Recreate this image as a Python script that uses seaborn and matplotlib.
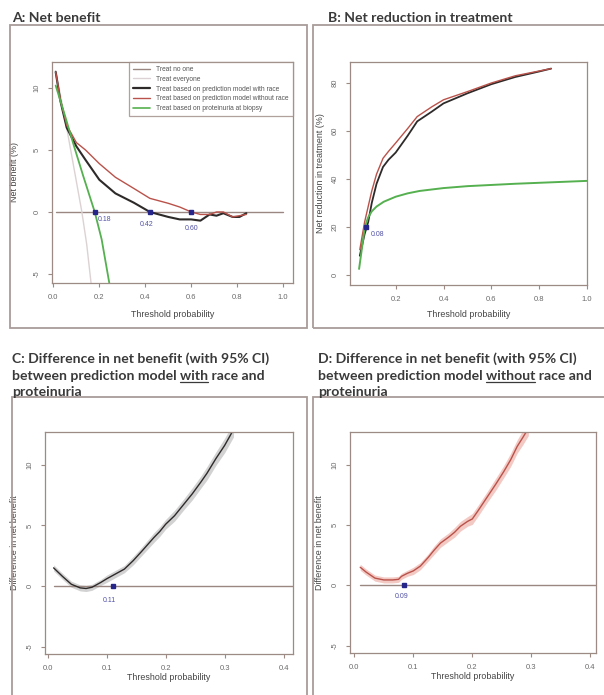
import numpy as np
import pandas as pd
import matplotlib
matplotlib.use("Agg")
import matplotlib.pyplot as plt
import seaborn as sns
from matplotlib.patches import Rectangle
from matplotlib.lines import Line2D

# ---------------- data ----------------
# Panel A: net benefit (%)
a_none_x = [0.01, 1.0]
a_none_y = [0.0, 0.0]
a_all_x = [0.01, 0.05, 0.09, 0.124, 0.145, 0.165]
a_all_y = [11.4, 7.6, 3.5, 0.0, -2.6, -5.9]
a_model_x = [0.01, 0.03, 0.058, 0.10, 0.14, 0.20, 0.27, 0.35, 0.42, 0.50, 0.55, 0.60, 0.64, 0.68, 0.71, 0.74, 0.78, 0.81, 0.84]
a_race_y = [11.3, 9.0, 6.8, 5.3, 4.2, 2.6, 1.5, 0.75, 0.0, -0.4, -0.6, -0.6, -0.7, -0.2, -0.3, -0.1, -0.4, -0.4, -0.1]
a_norace_y = [11.3, 9.1, 7.0, 5.6, 5.0, 3.9, 2.8, 1.9, 1.1, 0.7, 0.4, 0.0, -0.2, -0.2, 0.0, 0.0, -0.4, -0.3, -0.2]
a_prot_x = [0.01, 0.05, 0.09, 0.13, 0.18, 0.21, 0.245]
a_prot_y = [10.2, 7.8, 5.3, 2.9, 0.0, -2.2, -5.9]
a_cross = [0.18, 0.42, 0.60]
a_cross_lbl = ["0.18", "0.42", "0.60"]

# Panel B: net reduction in treatment (%)
b_model_x = [0.05, 0.07, 0.085, 0.10, 0.12, 0.147, 0.17, 0.20, 0.25, 0.29, 0.35, 0.40, 0.50, 0.60, 0.70, 0.80, 0.85]
b_race_y = [8.0, 17.0, 22.0, 30.0, 38.0, 45.0, 48.0, 51.0, 58.0, 64.0, 68.0, 71.5, 75.7, 79.5, 82.5, 84.8, 86.0]
b_norace_y = [10.5, 22.0, 28.5, 35.0, 42.0, 48.6, 51.5, 55.0, 61.0, 66.0, 70.0, 73.0, 76.4, 80.0, 83.0, 85.0, 86.0]
b_prot_x = [0.047, 0.06, 0.071, 0.085, 0.10, 0.12, 0.15, 0.20, 0.25, 0.30, 0.40, 0.50, 0.60, 0.70, 0.80, 0.90, 1.0]
b_prot_y = [2.5, 12.0, 20.0, 24.0, 26.5, 28.5, 30.5, 32.6, 34.0, 35.0, 36.2, 37.0, 37.5, 38.0, 38.4, 38.8, 39.2]
b_cross = [(0.075, 20.1)]
b_cross_lbl = ["0.08"]

# Panel C: difference in net benefit, model with race vs proteinuria
c_x = [0.01, 0.025, 0.04, 0.055, 0.065, 0.075, 0.09, 0.10, 0.115, 0.13, 0.145, 0.16, 0.18, 0.19, 0.20, 0.215, 0.23, 0.245, 0.26, 0.27, 0.285, 0.30, 0.315]
c_y = [1.5, 0.8, 0.15, -0.15, -0.2, -0.1, 0.3, 0.6, 1.0, 1.4, 2.1, 2.9, 4.0, 4.5, 5.1, 5.8, 6.7, 7.6, 8.6, 9.3, 10.5, 11.6, 12.9]
c_ci = [0.25, 0.25, 0.25, 0.25, 0.25, 0.25, 0.25, 0.3, 0.3, 0.3, 0.35, 0.35, 0.4, 0.4, 0.4, 0.45, 0.45, 0.5, 0.5, 0.55, 0.55, 0.6, 0.6]
c_cross = [0.11]
c_cross_lbl = ["0.11"]

# Panel D: difference in net benefit, model without race vs proteinuria
d_x = [0.01, 0.02, 0.035, 0.05, 0.065, 0.075, 0.08, 0.09, 0.10, 0.112, 0.125, 0.135, 0.146, 0.16, 0.17, 0.18, 0.192, 0.20, 0.21, 0.225, 0.24, 0.253, 0.265, 0.276, 0.285, 0.295]
d_y = [1.5, 1.1, 0.6, 0.45, 0.45, 0.5, 0.75, 1.0, 1.2, 1.6, 2.3, 2.9, 3.5, 4.0, 4.4, 4.9, 5.3, 5.5, 6.2, 7.3, 8.4, 9.4, 10.4, 11.5, 12.2, 13.0]
d_ci = [0.25, 0.25, 0.25, 0.25, 0.25, 0.25, 0.25, 0.25, 0.3, 0.3, 0.3, 0.35, 0.35, 0.35, 0.4, 0.4, 0.4, 0.45, 0.45, 0.45, 0.5, 0.5, 0.55, 0.55, 0.6, 0.6]
d_cross = [0.085]
d_cross_lbl = ["0.09"]

legend_labels = ["Treat no one", "Treat everyone",
                 "Treat based on prediction model with race",
                 "Treat based on prediction model without race",
                 "Treat based on proteinuria at biopsy"]

# ---------------- style ----------------
sns.set_theme(style="white")
plt.rcParams['font.family'] = ['Liberation Sans', 'DejaVu Sans']

C_NONE = '#9a8782'
C_ALL = '#dcd2d3'
C_RACE = '#2e2a2a'
C_NORACE = '#b9524a'
C_PROT = '#55b04f'
C_MARK = '#26268a'
C_LBL = '#5252a8'
FRAME = '#9c8a84'
PANEL = '#a89c98'
TITLE = '#3a3a3a'

W, H = 604, 695
fig = plt.figure(figsize=(W / 100, H / 100), dpi=100)
fig.patch.set_facecolor('white')


def axes_px(x0, y0, x1, y1):
    return fig.add_axes([x0 / W, 1 - y1 / H, (x1 - x0) / W, (y1 - y0) / H])


def style(ax, xlim, ylim, xticks, xlabels, yticks, ylabels, ylab, xlab_y, ylab_x):
    ax.set_facecolor('white')
    ax.set_xlim(xlim)
    ax.set_ylim(ylim)
    ax.set_xticks(xticks)
    ax.set_xticklabels(xlabels)
    ax.set_yticks(yticks)
    ax.set_yticklabels(ylabels, rotation=90, va='center')
    for s in ax.spines.values():
        s.set_visible(True)
        s.set_color(FRAME)
        s.set_linewidth(0.9)
    ax.tick_params(direction='out', length=3, width=0.8, color=FRAME,
                   labelsize=5.5, labelcolor='#6a6a6a', pad=5,
                   left=True, bottom=True)
    ax.set_xlabel('Threshold probability', fontsize=6.4, color='#444444')
    ax.set_ylabel(ylab, fontsize=6.4, color='#444444')
    ax.xaxis.set_label_coords(0.5, xlab_y)
    ax.yaxis.set_label_coords(ylab_x, 0.5)
    ax.grid(False)


def line(ax, x, y, color, lw):
    df = pd.DataFrame({'x': x, 'y': y})
    sns.lineplot(data=df, x='x', y='y', ax=ax, color=color, linewidth=lw,
                 estimator=None, sort=False, legend=False)


def mark(ax, x, y, lbl, dx, dy):
    ax.plot([x], [y], marker='s', ms=2.6, color=C_MARK, linestyle='none', zorder=6)
    ax.annotate(lbl, (x, y), xytext=(dx / 1.389, -dy / 1.389), textcoords='offset points',
                fontsize=5, color=C_LBL, ha='center', va='center')


# ---------------- panel frames ----------------
def frame_px(x0, y0, x1, y1):
    r = Rectangle((x0 / W, 1 - y1 / H), (x1 - x0) / W, (y1 - y0) / H,
                  transform=fig.transFigure, fill=False, edgecolor=PANEL, linewidth=1.3)
    fig.add_artist(r)

frame_px(10, 25, 307, 328)
frame_px(313, 25, 612, 328)
frame_px(12, 397, 307, 705)
frame_px(313, 397, 612, 705)

# ---------------- Panel A ----------------
axA = axes_px(52, 62, 293, 283)
line(axA, a_none_x, a_none_y, C_NONE, 1.0)
line(axA, a_all_x, a_all_y, C_ALL, 1.0)
line(axA, a_model_x, a_race_y, C_RACE, 1.5)
line(axA, a_model_x, a_norace_y, C_NORACE, 1.0)
line(axA, a_prot_x, a_prot_y, C_PROT, 1.3)
style(axA, (-0.006, 1.043), (-5.73, 12.1), [0, 0.2, 0.4, 0.6, 0.8, 1.0],
      ["0.0", "0.2", "0.4", "0.6", "0.8", "1.0"], [-5, 0, 5, 10], ["-5", "0", "5", "10"],
      "Net benefit (%)", -0.12, -0.137)
for xc, lbl, (dx, dy) in zip(a_cross, a_cross_lbl, [(10, 8), (-3, 13), (0, 17)]):
    mark(axA, xc, 0.0, lbl, dx, dy)
handles = [Line2D([], [], color=C_NONE, lw=1.0), Line2D([], [], color=C_ALL, lw=1.0),
           Line2D([], [], color=C_RACE, lw=1.6), Line2D([], [], color=C_NORACE, lw=1.0),
           Line2D([], [], color=C_PROT, lw=1.2)]
leg = axA.legend(handles, legend_labels, loc='upper right', borderaxespad=0,
                 fontsize=4.8, frameon=True, fancybox=False, handlelength=2.6,
                 handletextpad=1.0, labelspacing=0.42, borderpad=0.6)
leg.get_frame().set_edgecolor(FRAME)
leg.get_frame().set_linewidth(0.9)
for t in leg.get_texts():
    t.set_color('#555555')

# ---------------- Panel B ----------------
axB = axes_px(350, 62, 587, 285)
line(axB, b_model_x, b_race_y, C_RACE, 1.3)
line(axB, b_model_x, b_norace_y, C_NORACE, 1.0)
line(axB, b_prot_x, b_prot_y, C_PROT, 1.4)
style(axB, (0.009, 1.0), (-4.2, 88.75), [0.2, 0.4, 0.6, 0.8, 1.0],
      ["0.2", "0.4", "0.6", "0.8", "1.0"], [0, 20, 40, 60, 80], ["0", "20", "40", "60", "80"],
      "Net reduction in treatment (%)", -0.11, -0.107)
mark(axB, b_cross[0][0], b_cross[0][1], b_cross_lbl[0], 12, 8)

# ---------------- Panel C ----------------
axC = axes_px(45, 432, 293, 654)
lo = [y - c for y, c in zip(c_y, c_ci)]
hi = [y + c for y, c in zip(c_y, c_ci)]
axC.fill_between(c_x, lo, hi, color='#d2d2d2', linewidth=0, zorder=1)
axC.plot([0.01, 0.42], [0, 0], color=C_NONE, lw=1.0, zorder=2)
line(axC, c_x, c_y, C_RACE, 1.0)
style(axC, (-0.0046, 0.4158), (-5.6, 12.7), [0, 0.1, 0.2, 0.3, 0.4],
      ["0.0", "0.1", "0.2", "0.3", "0.4"], [-5, 0, 5, 10], ["-5", "0", "5", "10"],
      "Difference in net benefit", -0.086, -0.105)
mark(axC, c_cross[0], 0.0, c_cross_lbl[0], -3, 14)

# ---------------- Panel D ----------------
axD = axes_px(350, 432, 596, 653)
lo = [y - c for y, c in zip(d_y, d_ci)]
hi = [y + c for y, c in zip(d_y, d_ci)]
axD.fill_between(d_x, lo, hi, color='#f3c9c4', linewidth=0, zorder=1)
axD.plot([0.01, 0.42], [0, 0], color=C_NONE, lw=1.0, zorder=2)
line(axD, d_x, d_y, C_NORACE, 1.0)
style(axD, (-0.0073, 0.4096), (-5.6, 12.7), [0, 0.1, 0.2, 0.3, 0.4],
      ["0.0", "0.1", "0.2", "0.3", "0.4"], [-5, 0, 5, 10], ["-5", "0", "5", "10"],
      "Difference in net benefit", -0.084, -0.106)
mark(axD, d_cross[0], 0.0, d_cross_lbl[0], -3, 11)

# ---------------- titles ----------------
TF = dict(fontsize=10.1, color=TITLE, fontweight='bold', family=['Lato', 'DejaVu Sans'], va='baseline', ha='left')


def ftxt(xpx, ypx, s):
    return fig.text(xpx / W, 1 - ypx / H, s, **TF)

ftxt(12, 21.5, "A: Net benefit")
ftxt(328, 21.5, "B: Net reduction in treatment")

fig.canvas.draw()
renderer = fig.canvas.get_renderer()


def width_px(s):
    t = fig.text(0, 0, s, **TF)
    w = t.get_window_extent(renderer).width
    t.remove()
    return w


def underlined_line(xpx, ypx, pre, word, post):
    ftxt(xpx, ypx, pre + word + post)
    sp = width_px("a a") - width_px("aa")
    x0 = xpx + width_px(pre.rstrip()) + (sp if pre.endswith(" ") else 0)
    x1 = x0 + width_px(word)
    yl = ypx + 2.5
    fig.add_artist(Line2D([x0 / W, x1 / W], [1 - yl / H, 1 - yl / H],
                          transform=fig.transFigure, color=TITLE, lw=0.9))

for xo, word, post in [(12, "with", " race and"), (318, "without", " race and")]:
    lbl = "C" if xo < 300 else "D"
    ftxt(xo, 363, f"{lbl}: Difference in net benefit (with 95% CI)")
    underlined_line(xo, 379.5, "between prediction model ", word, post)
    ftxt(xo, 395.5, "proteinuria")

fig.savefig("out.png", dpi=100, facecolor='white')
